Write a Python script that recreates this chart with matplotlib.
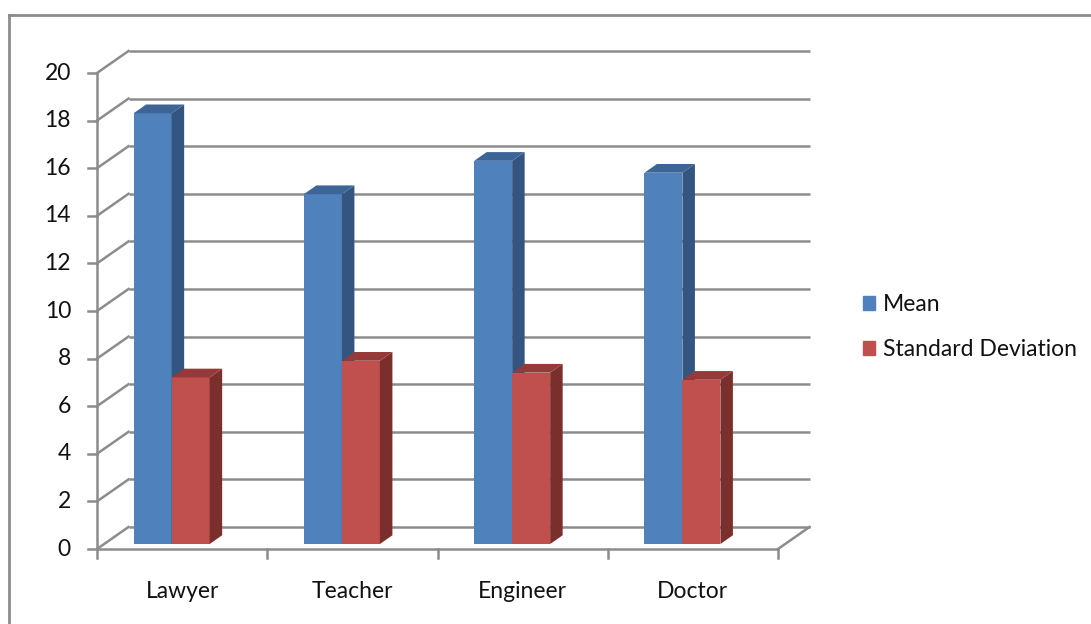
import matplotlib
matplotlib.use("Agg")
import matplotlib.pyplot as plt
from matplotlib.patches import Polygon, Patch
from matplotlib.lines import Line2D

categories = ["Lawyer", "Teacher", "Engineer", "Doctor"]
series_names = ["Mean", "Standard Deviation"]
mean_values = [18.1, 14.7, 16.1, 15.6]
sd_values = [7.0, 7.7, 7.2, 6.9]
y_ticks = [0, 2, 4, 6, 8, 10, 12, 14, 16, 18, 20]

plt.rcParams['font.family'] = ['Lato', 'DejaVu Sans']

W, H = 1091, 624
fig = plt.figure(figsize=(W / 100, H / 100), dpi=100)
ax = fig.add_axes([0, 0, 1, 1])
ax.set_axis_off()

# pixel scale of the front plane
SX = 170.25   # px per category
SY = 23.8     # px per value unit
X0, Y0 = 97, 549
ax.set_xlim((0 - X0) / SX - 0.5, (W - X0) / SX - 0.5)
ax.set_ylim((Y0 - H) / SY, Y0 / SY)

# depth vector (front -> back wall) in data units
DX, DY = 31.5 / SX, 22 / SY
grid_c = '#8c8c8c'
txt_c = '#111111'
fs = 16.5
lw = 1.8
n = len(categories)
left, right = -0.5, n - 0.5

# back wall gridlines and left wall diagonals
for v in y_ticks:
    ax.plot([left + DX, right + DX], [v + DY, v + DY], color=grid_c, lw=lw, solid_capstyle='butt')
    ax.plot([left, left + DX], [v, v + DY], color=grid_c, lw=lw)
    ax.plot([left - 9 / SX, left], [v, v], color=grid_c, lw=lw)
    ax.text(left - 26 / SX, v, str(v), ha='right', va='center', fontsize=fs, color=txt_c)

# floor
ax.plot([left, right], [0, 0], color=grid_c, lw=lw)
ax.plot([right, right + DX], [0, DY], color=grid_c, lw=lw)
ax.plot([left, left], [0, y_ticks[-1]], color=grid_c, lw=lw)
for i in range(n + 1):
    ax.plot([left + i, left + i], [0, -9 / SY], color=grid_c, lw=lw)
for i, c in enumerate(categories):
    ax.text(i, -43 / SY, c, ha='center', va='center', fontsize=fs, color=txt_c)

# bars
t0, t1 = 0.227, 0.624
off = 29.5 / SX
bw = 38 / SX
front_c = ['#4f81bd', '#c0504d']
side_c = ['#34557f', '#7b2f2d']
top_c = ['#3d6597', '#953a38']
for i in range(n):
    for j, vals in enumerate([mean_values, sd_values]):
        v = vals[i]
        x1 = i - 0.5 + off + j * bw + t0 * DX
        x2 = x1 + bw
        yb = t0 * DY
        yt = v + t0 * DY
        ddx, ddy = (t1 - t0) * DX, (t1 - t0) * DY
        ax.bar(x1, v, width=bw, bottom=yb, align='edge', color=front_c[j], lw=0, zorder=3)
        ax.add_patch(Polygon([(x2, yb), (x2 + ddx, yb + ddy), (x2 + ddx, yt + ddy), (x2, yt)],
                             closed=True, fc=side_c[j], lw=0, zorder=3))
        ax.add_patch(Polygon([(x1, yt), (x2, yt), (x2 + ddx, yt + ddy), (x1 + ddx, yt + ddy)],
                             closed=True, fc=top_c[j], lw=0, zorder=3))

# chart area border (top and left visible)
fig.add_artist(Line2D([9 / W, 1], [1 - 15 / H, 1 - 15 / H], color='#8c8c8c', lw=2))
fig.add_artist(Line2D([9 / W, 9 / W], [0, 1 - 15 / H], color='#8c8c8c', lw=2))

handles = [Patch(color=front_c[0]), Patch(color=front_c[1])]
fig.legend(handles, series_names, loc='center left', bbox_to_anchor=(842 / W, 1 - 327 / H),
           frameon=False, fontsize=fs, handlelength=0.55, handleheight=0.55,
           handletextpad=0.35, labelspacing=1.05, labelcolor=txt_c)

fig.savefig('out.png', dpi=100)
